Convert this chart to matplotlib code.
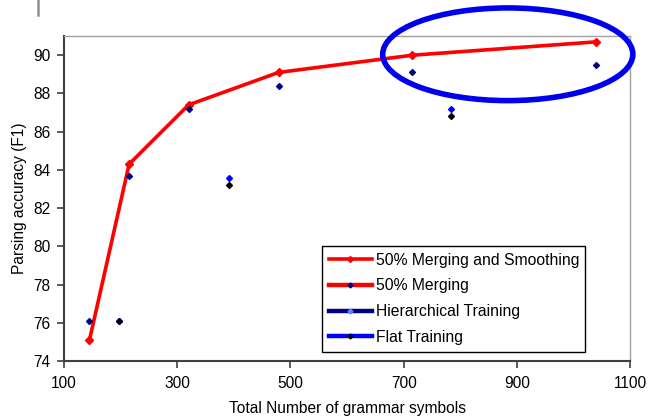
import numpy as np
import matplotlib.pyplot as plt
from matplotlib.lines import Line2D
from matplotlib.patches import Ellipse

plt.rcParams['font.family'] = ['Liberation Sans', 'DejaVu Sans']

# 50% Merging and Smoothing
smooth_x = [145, 215, 320, 479, 715, 1040]
smooth_y = [75.1, 84.3, 87.4, 89.1, 90.0, 90.7]
# 50% Merging
merge_x = [145, 215, 320, 479, 715, 1040]
merge_y = [76.1, 83.7, 87.2, 88.4, 89.1, 89.5]
# Hierarchical Training
hier_x = [197, 392, 784]
hier_y = [76.1, 83.6, 87.2]
# Flat Training
flat_x = [197, 392, 784]
flat_y = [76.1, 83.2, 86.8]

xticks = [100, 300, 500, 700, 900, 1100]
yticks = [74, 76, 78, 80, 82, 84, 86, 88, 90]

fig = plt.figure(figsize=(6.48, 4.2), dpi=100)
ax = fig.add_axes([0.0988, 0.1405, 0.8735, 0.7735])

ax.plot(smooth_x, smooth_y, color='#ff0000', lw=2.6, marker='D', ms=4, zorder=3)
ax.plot(merge_x, merge_y, ls='none', marker='D', ms=3, color='#000080', zorder=4)
ax.plot(hier_x, hier_y, ls='none', marker='D', ms=3, color='#0000ff', zorder=4)
ax.plot(flat_x, flat_y, ls='none', marker='D', ms=3, color='#000000', zorder=5)

ax.set_xlim(100, 1100)
ax.set_ylim(74, 91)
ax.set_xticks(xticks)
ax.set_yticks(yticks)
ax.tick_params(direction='out', length=5, width=1.2, color='#404040', labelsize=11.2, pad=5)
ax.tick_params(axis='x', pad=6)

for s in ['left', 'bottom']:
    ax.spines[s].set_color('#404040')
    ax.spines[s].set_linewidth(1.5)
for s in ['top', 'right']:
    ax.spines[s].set_color('#a0a0a0')
    ax.spines[s].set_linewidth(1.0)

ax.set_xlabel('Total Number of grammar symbols', fontsize=11.2, labelpad=7)
ax.set_ylabel('Parsing accuracy (F1)', fontsize=11.2, labelpad=4)

ell = Ellipse((884, 90.05), 442, 4.85, fill=False, ec='#0000ee', lw=4, clip_on=False, zorder=6)
ax.add_patch(ell)

handles = [
    Line2D([], [], color='#ff0000', lw=2.6, marker='D', ms=3, mfc='#ff0000', mec='#ff0000'),
    Line2D([], [], color='#ff0000', lw=3.2, marker='D', ms=2.5, mfc='#000080', mec='#000080'),
    Line2D([], [], color='#000080', lw=3.2, marker='D', ms=2.5, mfc='#6080ff', mec='#6080ff'),
    Line2D([], [], color='#0000ff', lw=3.2, marker='D', ms=2.5, mfc='#000000', mec='#000000'),
]
labels = ['50% Merging and Smoothing', '50% Merging', 'Hierarchical Training', 'Flat Training']
leg = ax.legend(handles, labels, loc='lower left', bbox_to_anchor=(0.456, 0.028, 0.464, 0.326),
                mode='expand', fontsize=11.3, frameon=True, fancybox=False, framealpha=1,
                edgecolor='black', handlelength=2.7, handletextpad=0.3, borderpad=0.45,
                labelspacing=0.68, borderaxespad=0)
leg.get_frame().set_linewidth(1.0)

fig.add_artist(Line2D([37.7 / 648, 37.7 / 648], [1.0, 1 - 15 / 420], color='#909090', lw=1.8))

fig.savefig('out.png', dpi=100)
